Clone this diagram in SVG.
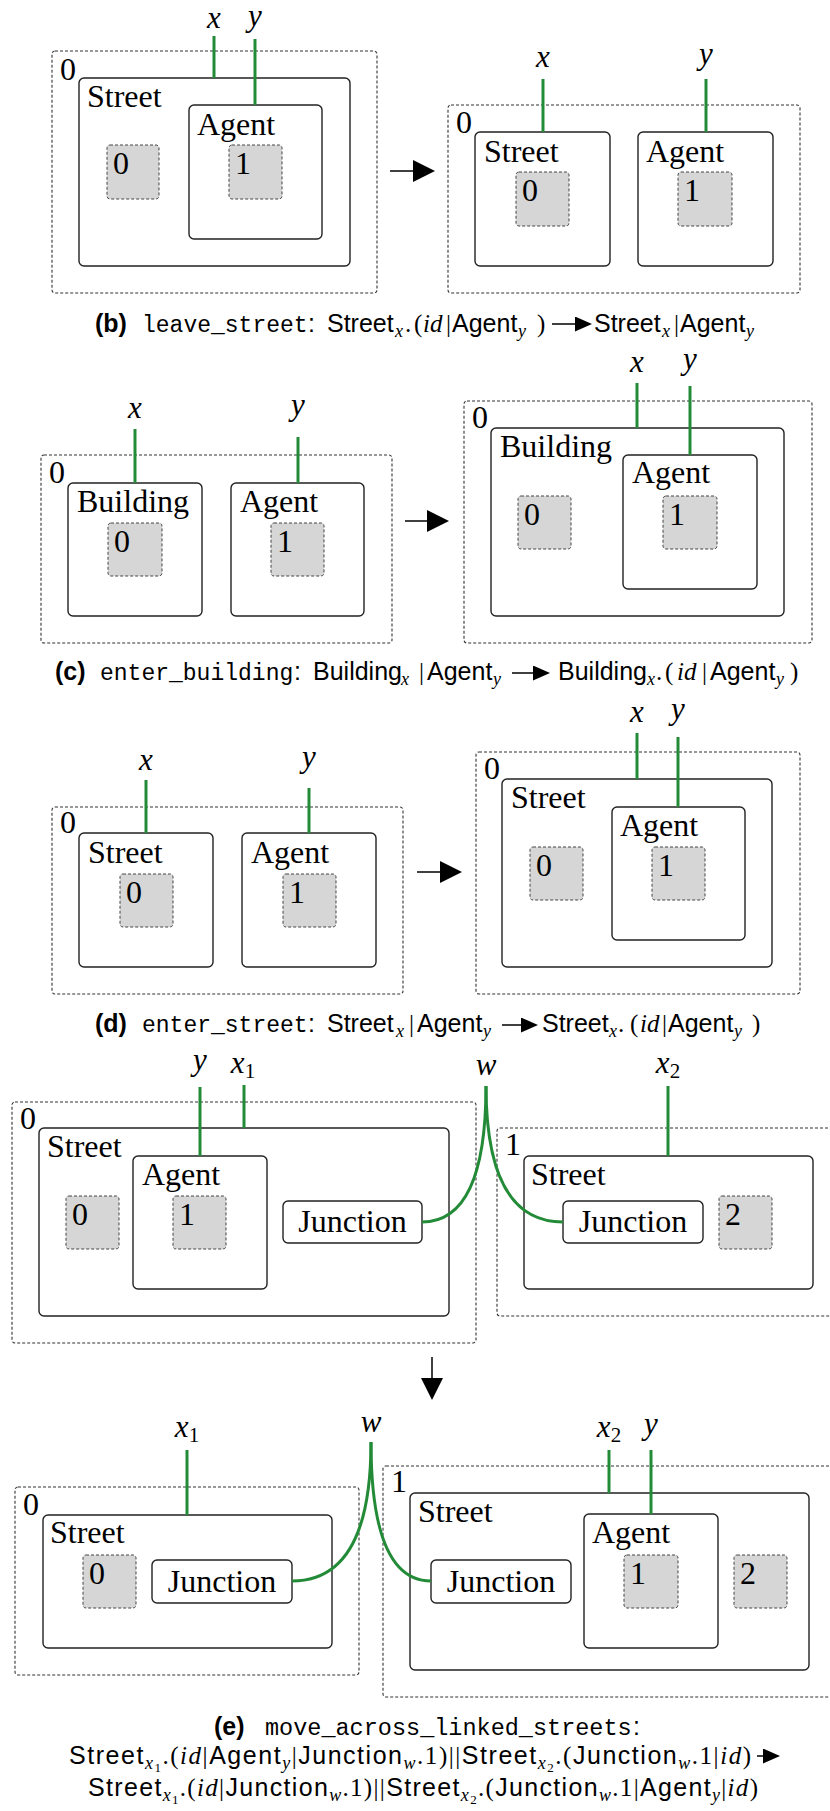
<svg xmlns="http://www.w3.org/2000/svg" width="830" height="1811" viewBox="0 0 830 1811">
<style>
.reg{fill:none;stroke:#333;stroke-width:1.1;stroke-dasharray:3 2}
.box{fill:#fff;stroke:#222;stroke-width:1.4}
.site{fill:#d6d6d6;stroke:#444;stroke-width:1;stroke-dasharray:3 2}
.lk{stroke:#238b37;stroke-width:3;fill:none}
.ar{stroke:#000;stroke-width:1.5;fill:none}
.t{font-family:"Liberation Serif","Times New Roman",serif;font-size:32px;fill:#000}
.tm{font-family:"Liberation Serif","Times New Roman",serif;font-size:32px;fill:#000;text-anchor:middle}
.lab{font-family:"Liberation Serif","Times New Roman",serif;font-style:italic;font-size:31px;text-anchor:middle;fill:#000}
.lsub{font-style:normal;font-size:21px}
.cap{font-family:"Liberation Sans",Arial,sans-serif;font-size:25px;fill:#000}
.bf{font-weight:bold}
.tt{font-family:"Liberation Mono","Courier New",monospace;font-size:23px}
.mi{font-family:"Liberation Serif","Times New Roman",serif;font-style:italic}
.mr{font-family:"Liberation Serif","Times New Roman",serif}
.sb{font-size:18px}
.ss{font-size:13px}
</style>
<defs>
<marker id="ah" markerUnits="userSpaceOnUse" markerWidth="22" markerHeight="22" refX="12" refY="11" orient="auto"><path d="M0,0 L22,11 L0,22 z" fill="#000"/></marker>
<marker id="ahs" markerUnits="userSpaceOnUse" markerWidth="17" markerHeight="15" refX="9" refY="7.5" orient="auto"><path d="M0,0 L17,7.5 L0,15 z" fill="#000"/></marker>
</defs>
<rect width="830" height="1811" fill="#fff"/>

<!-- Panel b left -->
<g id="b-left-region0"><rect class="reg" x="52" y="51" width="325" height="242" rx="3"/><text class="t" x="60" y="80">0</text></g>
<g id="b-left-street"><rect class="box" x="79" y="78" width="271" height="188" rx="5"/><text class="t" x="87" y="107">Street</text></g>
<g id="b-left-agent"><rect class="box" x="189" y="105" width="133" height="134" rx="5"/><text class="t" x="197" y="135">Agent</text></g>
<g id="b-left-site0"><rect class="site" x="107" y="145" width="52" height="54" rx="3"/><text class="t" x="113" y="174">0</text></g>
<g id="b-left-site1"><rect class="site" x="229" y="145" width="53" height="54" rx="3"/><text class="t" x="235" y="174">1</text></g>
<g id="b-left-names"><text class="lab" x="214" y="28">x</text><text class="lab" x="255" y="26">y</text></g>

<!-- Panel b right -->
<g id="b-right-region0"><rect class="reg" x="448" y="105" width="352" height="188" rx="3"/><text class="t" x="456" y="133">0</text></g>
<g id="b-right-street"><rect class="box" x="475" y="132" width="135" height="134" rx="5"/><text class="t" x="484" y="162">Street</text></g>
<g id="b-right-agent"><rect class="box" x="638" y="132" width="135" height="134" rx="5"/><text class="t" x="646" y="162">Agent</text></g>
<g id="b-right-site0"><rect class="site" x="516" y="172" width="53" height="54" rx="3"/><text class="t" x="522" y="201">0</text></g>
<g id="b-right-site1"><rect class="site" x="678" y="172" width="54" height="54" rx="3"/><text class="t" x="684" y="201">1</text></g>
<g id="b-right-names"><text class="lab" x="543" y="67">x</text><text class="lab" x="706" y="64">y</text></g>

<!-- Panel c left -->
<g id="c-left-region0"><rect class="reg" x="41" y="455" width="351" height="188" rx="3"/><text class="t" x="49" y="483">0</text></g>
<g id="c-left-building"><rect class="box" x="68" y="483" width="134" height="133" rx="5"/><text class="t" x="77" y="512">Building</text></g>
<g id="c-left-agent"><rect class="box" x="231" y="483" width="133" height="133" rx="5"/><text class="t" x="240" y="512">Agent</text></g>
<g id="c-left-site0"><rect class="site" x="108" y="523" width="54" height="53" rx="3"/><text class="t" x="114" y="552">0</text></g>
<g id="c-left-site1"><rect class="site" x="271" y="523" width="53" height="53" rx="3"/><text class="t" x="277" y="552">1</text></g>
<g id="c-left-names"><text class="lab" x="135" y="418">x</text><text class="lab" x="298" y="415">y</text></g>

<!-- Panel c right -->
<g id="c-right-region0"><rect class="reg" x="464" y="401" width="348" height="242" rx="3"/><text class="t" x="472" y="428">0</text></g>
<g id="c-right-building"><rect class="box" x="491" y="428" width="293" height="188" rx="5"/><text class="t" x="500" y="457">Building</text></g>
<g id="c-right-agent"><rect class="box" x="623" y="455" width="134" height="134" rx="5"/><text class="t" x="632" y="483">Agent</text></g>
<g id="c-right-site0"><rect class="site" x="518" y="496" width="53" height="53" rx="3"/><text class="t" x="524" y="525">0</text></g>
<g id="c-right-site1"><rect class="site" x="663" y="496" width="54" height="53" rx="3"/><text class="t" x="669" y="525">1</text></g>
<g id="c-right-names"><text class="lab" x="637" y="372">x</text><text class="lab" x="690" y="369">y</text></g>

<!-- Panel d left -->
<g id="d-left-region0"><rect class="reg" x="52" y="807" width="351" height="187" rx="3"/><text class="t" x="60" y="833">0</text></g>
<g id="d-left-street"><rect class="box" x="79" y="833" width="134" height="134" rx="5"/><text class="t" x="88" y="863">Street</text></g>
<g id="d-left-agent"><rect class="box" x="242" y="833" width="134" height="134" rx="5"/><text class="t" x="251" y="863">Agent</text></g>
<g id="d-left-site0"><rect class="site" x="120" y="874" width="53" height="53" rx="3"/><text class="t" x="126" y="903">0</text></g>
<g id="d-left-site1"><rect class="site" x="283" y="874" width="53" height="53" rx="3"/><text class="t" x="289" y="903">1</text></g>
<g id="d-left-names"><text class="lab" x="146" y="770">x</text><text class="lab" x="309" y="767">y</text></g>

<!-- Panel d right -->
<g id="d-right-region0"><rect class="reg" x="476" y="752" width="324" height="242" rx="3"/><text class="t" x="484" y="779">0</text></g>
<g id="d-right-street"><rect class="box" x="502" y="779" width="270" height="188" rx="5"/><text class="t" x="511" y="808">Street</text></g>
<g id="d-right-agent"><rect class="box" x="612" y="807" width="133" height="133" rx="5"/><text class="t" x="620" y="836">Agent</text></g>
<g id="d-right-site0"><rect class="site" x="530" y="847" width="53" height="53" rx="3"/><text class="t" x="536" y="876">0</text></g>
<g id="d-right-site1"><rect class="site" x="652" y="847" width="53" height="53" rx="3"/><text class="t" x="658" y="876">1</text></g>
<g id="d-right-names"><text class="lab" x="637" y="722">x</text><text class="lab" x="678" y="719">y</text></g>

<!-- Panel e top -->
<g id="e-top-region0"><rect class="reg" x="12" y="1102" width="464" height="241" rx="3"/><text class="t" x="20" y="1129">0</text></g>
<g id="e-top-street1"><rect class="box" x="39" y="1128" width="410" height="188" rx="5"/><text class="t" x="47" y="1157">Street</text></g>
<g id="e-top-agent"><rect class="box" x="133" y="1156" width="134" height="133" rx="5"/><text class="t" x="142" y="1185">Agent</text></g>
<g id="e-top-site0"><rect class="site" x="66" y="1196" width="53" height="53" rx="3"/><text class="t" x="72" y="1225">0</text></g>
<g id="e-top-site1"><rect class="site" x="173" y="1196" width="53" height="53" rx="3"/><text class="t" x="179" y="1225">1</text></g>
<g id="e-top-junction1"><rect class="box" x="283" y="1201" width="139" height="42" rx="5"/><text class="tm" x="352.5" y="1232">Junction</text></g>
<g id="e-top-region1"><rect class="reg" x="497" y="1128" width="345" height="188" rx="3"/><text class="t" x="505" y="1155">1</text></g>
<g id="e-top-street2"><rect class="box" x="524" y="1156" width="289" height="133" rx="5"/><text class="t" x="531" y="1185">Street</text></g>
<g id="e-top-junction2"><rect class="box" x="563" y="1201" width="140" height="42" rx="5"/><text class="tm" x="633" y="1232">Junction</text></g>
<g id="e-top-site2"><rect class="site" x="719" y="1196" width="53" height="53" rx="3"/><text class="t" x="725" y="1225">2</text></g>
<g id="e-top-names">
<text class="lab" x="200" y="1070">y</text>
<text class="lab" x="243" y="1073">x<tspan class="lsub" dy="5">1</tspan></text>
<text class="lab" x="486" y="1075">w</text>
<text class="lab" x="668" y="1073">x<tspan class="lsub" dy="5">2</tspan></text>
</g>

<!-- Panel e bottom -->
<g id="e-bot-region0"><rect class="reg" x="15" y="1487" width="344" height="188" rx="3"/><text class="t" x="23" y="1515">0</text></g>
<g id="e-bot-street1"><rect class="box" x="43" y="1515" width="289" height="133" rx="5"/><text class="t" x="50" y="1543">Street</text></g>
<g id="e-bot-site0"><rect class="site" x="83" y="1555" width="53" height="53" rx="3"/><text class="t" x="89" y="1584">0</text></g>
<g id="e-bot-junction1"><rect class="box" x="152" y="1560" width="140" height="43" rx="5"/><text class="tm" x="222" y="1592">Junction</text></g>
<g id="e-bot-region1"><rect class="reg" x="383" y="1466" width="460" height="231" rx="3"/><text class="t" x="391" y="1492">1</text></g>
<g id="e-bot-street2"><rect class="box" x="410" y="1493" width="399" height="177" rx="5"/><text class="t" x="418" y="1522">Street</text></g>
<g id="e-bot-junction2"><rect class="box" x="431" y="1560" width="140" height="43" rx="5"/><text class="tm" x="501" y="1592">Junction</text></g>
<g id="e-bot-agent"><rect class="box" x="584" y="1514" width="134" height="134" rx="5"/><text class="t" x="592" y="1543">Agent</text></g>
<g id="e-bot-site1"><rect class="site" x="624" y="1555" width="54" height="53" rx="3"/><text class="t" x="630" y="1584">1</text></g>
<g id="e-bot-site2"><rect class="site" x="734" y="1555" width="53" height="53" rx="3"/><text class="t" x="740" y="1584">2</text></g>
<g id="e-bot-names">
<text class="lab" x="187" y="1437">x<tspan class="lsub" dy="5">1</tspan></text>
<text class="lab" x="371" y="1432">w</text>
<text class="lab" x="609" y="1437">x<tspan class="lsub" dy="5">2</tspan></text>
<text class="lab" x="651" y="1434">y</text>
</g>

<!-- connectors -->
<g id="connectors">
<line class="lk" x1="214" y1="36" x2="214" y2="78"/>
<line class="lk" x1="255" y1="39" x2="255" y2="105"/>
<line class="lk" x1="543" y1="79" x2="543" y2="132"/>
<line class="lk" x1="706" y1="79" x2="706" y2="132"/>
<line class="lk" x1="135" y1="429" x2="135" y2="483"/>
<line class="lk" x1="298" y1="437" x2="298" y2="483"/>
<line class="lk" x1="637" y1="383" x2="637" y2="428"/>
<line class="lk" x1="690" y1="386" x2="690" y2="455"/>
<line class="lk" x1="146" y1="780" x2="146" y2="833"/>
<line class="lk" x1="309" y1="788" x2="309" y2="833"/>
<line class="lk" x1="637" y1="733" x2="637" y2="779"/>
<line class="lk" x1="678" y1="737" x2="678" y2="807"/>
<line class="lk" x1="200" y1="1087" x2="200" y2="1156"/>
<line class="lk" x1="244" y1="1085" x2="244" y2="1128"/>
<line class="lk" x1="668" y1="1086" x2="668" y2="1156"/>
<path class="lk" d="M486,1086 Q486,1222 422,1222"/>
<path class="lk" d="M486,1086 Q486,1222 563,1222"/>
<line class="lk" x1="187" y1="1450" x2="187" y2="1515"/>
<line class="lk" x1="609" y1="1450" x2="609" y2="1493"/>
<line class="lk" x1="651" y1="1450" x2="651" y2="1514"/>
<path class="lk" d="M371,1442 Q371,1581 292,1581"/>
<path class="lk" d="M371,1442 Q371,1581 431,1581"/>
<line class="ar" x1="390" y1="171" x2="425" y2="171" marker-end="url(#ah)"/>
<line class="ar" x1="405" y1="521" x2="439" y2="521" marker-end="url(#ah)"/>
<line class="ar" x1="417" y1="872" x2="452" y2="872" marker-end="url(#ah)"/>
<line class="ar" x1="432" y1="1357" x2="432" y2="1390" marker-end="url(#ah)"/>
<line class="ar" x1="552" y1="324" x2="584" y2="324" marker-end="url(#ahs)"/>
<line class="ar" x1="512" y1="673" x2="542" y2="673" marker-end="url(#ahs)"/>
<line class="ar" x1="502" y1="1025" x2="530" y2="1025" marker-end="url(#ahs)"/>
<line class="ar" x1="757" y1="1756" x2="772" y2="1756" marker-end="url(#ahs)"/>
</g>

<!-- captions -->
<g id="captions">
<text class="cap" y="332"><tspan class="bf" x="95">(b)</tspan><tspan class="tt" x="142">leave_street</tspan><tspan x="308">:</tspan><tspan x="327">Street</tspan><tspan class="mi sb" x="395" y="337">x</tspan><tspan class="mr" x="405" y="332">.</tspan><tspan class="mr" x="414">(</tspan><tspan class="mi" x="423">id</tspan><tspan class="mr" x="446">|</tspan><tspan x="452">Agent</tspan><tspan class="mi sb" x="518" y="337">y</tspan><tspan class="mr" x="537" y="332">)</tspan><tspan x="594">Street</tspan><tspan class="mi sb" x="662" y="337">x</tspan><tspan class="mr" x="674" y="332">|</tspan><tspan x="680">Agent</tspan><tspan class="mi sb" x="746" y="337">y</tspan></text>

<text class="cap" y="680"><tspan class="bf" x="55">(c)</tspan><tspan class="tt" x="100">enter_building</tspan><tspan x="294">:</tspan><tspan x="313">Building</tspan><tspan class="mi sb" x="401" y="685">x</tspan><tspan class="mr" x="419" y="680">|</tspan><tspan x="427">Agent</tspan><tspan class="mi sb" x="493" y="685">y</tspan><tspan x="558" y="680">Building</tspan><tspan class="mi sb" x="647" y="685">x</tspan><tspan class="mr" x="656" y="680">.</tspan><tspan class="mr" x="665">(</tspan><tspan class="mi" x="677">id</tspan><tspan class="mr" x="702">|</tspan><tspan x="710">Agent</tspan><tspan class="mi sb" x="776" y="685">y</tspan><tspan class="mr" x="790" y="680">)</tspan></text>

<text class="cap" y="1032"><tspan class="bf" x="95">(d)</tspan><tspan class="tt" x="142">enter_street</tspan><tspan x="308">:</tspan><tspan x="327">Street</tspan><tspan class="mi sb" x="396" y="1037">x</tspan><tspan class="mr" x="409" y="1032">|</tspan><tspan x="417">Agent</tspan><tspan class="mi sb" x="483" y="1037">y</tspan><tspan x="542" y="1032">Street</tspan><tspan class="mi sb" x="609" y="1037">x</tspan><tspan class="mr" x="618" y="1032">.</tspan><tspan class="mr" x="630">(</tspan><tspan class="mi" x="640">id</tspan><tspan class="mr" x="662">|</tspan><tspan x="668">Agent</tspan><tspan class="mi sb" x="734" y="1037">y</tspan><tspan class="mr" x="752" y="1032">)</tspan></text>

<text class="cap" y="1735"><tspan class="bf" x="214">(e)</tspan><tspan class="tt" x="265" style="font-size:23.5px">move_across_linked_streets</tspan><tspan x="633">:</tspan></text>

<text class="cap" x="69" y="1764" textLength="682" lengthAdjust="spacing">Street<tspan class="mi sb" dy="5">x</tspan><tspan class="mr ss" dy="3">1</tspan><tspan class="mr" dy="-8">.(</tspan><tspan class="mi">id</tspan><tspan class="mr">|</tspan>Agent<tspan class="mi sb" dy="5">y</tspan><tspan class="mr" dy="-5">|</tspan>Junction<tspan class="mi sb" dy="5">w</tspan><tspan class="mr" dy="-5">.1)||</tspan>Street<tspan class="mi sb" dy="5">x</tspan><tspan class="mr ss" dy="3">2</tspan><tspan class="mr" dy="-8">.(</tspan>Junction<tspan class="mi sb" dy="5">w</tspan><tspan class="mr" dy="-5">.1|</tspan><tspan class="mi">id</tspan><tspan class="mr">)</tspan></text>

<text class="cap" x="88" y="1796" textLength="670" lengthAdjust="spacing">Street<tspan class="mi sb" dy="5">x</tspan><tspan class="mr ss" dy="3">1</tspan><tspan class="mr" dy="-8">.(</tspan><tspan class="mi">id</tspan><tspan class="mr">|</tspan>Junction<tspan class="mi sb" dy="5">w</tspan><tspan class="mr" dy="-5">.1)||</tspan>Street<tspan class="mi sb" dy="5">x</tspan><tspan class="mr ss" dy="3">2</tspan><tspan class="mr" dy="-8">.(</tspan>Junction<tspan class="mi sb" dy="5">w</tspan><tspan class="mr" dy="-5">.1|</tspan>Agent<tspan class="mi sb" dy="5">y</tspan><tspan class="mr" dy="-5">|</tspan><tspan class="mi">id</tspan><tspan class="mr">)</tspan></text>
</g>
</svg>
